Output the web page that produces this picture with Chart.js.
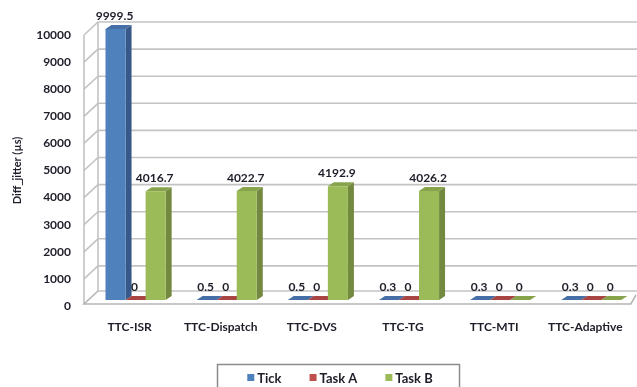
<!DOCTYPE html>
<html>
<head>
<meta charset="utf-8">
<script src="https://cdn.jsdelivr.net/npm/chart.js@4.4.1/dist/chart.umd.min.js"></script>
<style>
  html, body { margin: 0; padding: 0; background: #fff; }
  #wrap { width: 637px; height: 387px; position: relative; }
</style>
</head>
<body>
<div id="wrap"><canvas id="chart"></canvas></div>
<script>
// Chart data
const categories = ['TTC-ISR', 'TTC-Dispatch', 'TTC-DVS', 'TTC-TG', 'TTC-MTI', 'TTC-Adaptive'];
const tickValues = [9999.5, 0.5, 0.5, 0.3, 0.3, 0.3];
const taskAValues = [0, 0, 0, 0, 0, 0];
const taskBValues = [4016.7, 4022.7, 4192.9, 4026.2, 0, 0];
const seriesNames = ['Tick', 'Task A', 'Task B'];
const yAxisTitle = 'Diff_jitter (\u00b5s)';

// Face colours: front, side, top
const palette = [
  { front: '#4F81BD', side: '#37598A', top: '#456FA6' },
  { front: '#C0504D', side: '#8C3836', top: '#A84542' },
  { front: '#9BBB59', side: '#72893F', top: '#87A44C' }
];

const FONT = 'Lato';
const TEXT = '#1e1e2a';
const BAR_SHIFT = { x: 6, y: -6 };   // bars sit a little behind the front edge
const BAR_DEPTH = { x: 6, y: -4 };   // depth of each column
const WALL = { x: 14, y: -13 };      // back wall offset

Chart.defaults.font.family = FONT;
Chart.defaults.font.weight = 'bold';
Chart.defaults.color = TEXT;

// Walls, floor and 3D faces of the columns
const threeD = {
  id: 'threeD',
  beforeDatasetsDraw(chart) {
    const ctx = chart.ctx;
    const y = chart.scales.y;
    const area = chart.chartArea;
    const left = area.left;
    const right = chart.width;

    ctx.save();
    ctx.strokeStyle = '#C3C3C3';
    ctx.lineWidth = 1.6;
    // back wall gridlines with slanted side wall connectors
    y.ticks.forEach(t => {
      if (t.value === 0) return;
      const py = y.getPixelForValue(t.value);
      ctx.beginPath();
      ctx.moveTo(left, py);
      ctx.lineTo(left + WALL.x, py + WALL.y);
      ctx.lineTo(right, py + WALL.y);
      ctx.stroke();
    });
    // left wall edge
    const top = y.getPixelForValue(y.max);
    const y0 = y.getPixelForValue(0) - 2;
    ctx.beginPath();
    ctx.moveTo(left, top);
    ctx.lineTo(left, y0);
    ctx.moveTo(left + WALL.x, top + WALL.y);
    ctx.lineTo(left + WALL.x, y0 + WALL.y);
    ctx.stroke();
    // floor
    ctx.beginPath();
    ctx.moveTo(left + WALL.x, y0 + WALL.y);
    ctx.lineTo(right, y0 + WALL.y);
    ctx.stroke();
    ctx.strokeStyle = '#B5B5B5';
    ctx.beginPath();
    ctx.moveTo(left + WALL.x, y0 + WALL.y);
    ctx.lineTo(left, y0);
    ctx.lineTo(area.right, y0);
    ctx.lineTo(right - 1, y0 + WALL.y + 4);
    ctx.stroke();
    ctx.restore();

    // columns: side and top faces, fronts are drawn by Chart.js afterwards
    ctx.save();
    ctx.translate(BAR_SHIFT.x, BAR_SHIFT.y);
    chart.data.datasets.forEach((ds, di) => {
      const meta = chart.getDatasetMeta(di);
      const col = palette[di];
      meta.data.forEach(bar => {
        const p = bar.getProps(['x', 'y', 'base', 'width'], true);
        const l = p.x - p.width / 2, r = p.x + p.width / 2;
        const t = Math.min(p.y, p.base), b = Math.max(p.y, p.base);
        ctx.fillStyle = col.side;
        ctx.beginPath();
        ctx.moveTo(r, t);
        ctx.lineTo(r + BAR_DEPTH.x, t + BAR_DEPTH.y);
        ctx.lineTo(r + BAR_DEPTH.x, b + BAR_DEPTH.y);
        ctx.lineTo(r, b);
        ctx.closePath();
        ctx.fill();
        ctx.fillStyle = col.top;
        ctx.beginPath();
        ctx.moveTo(l, t);
        ctx.lineTo(l + BAR_DEPTH.x, t + BAR_DEPTH.y);
        ctx.lineTo(r + BAR_DEPTH.x, t + BAR_DEPTH.y);
        ctx.lineTo(r, t);
        ctx.closePath();
        ctx.fill();
      });
    });
  },
  afterDatasetsDraw(chart) {
    const ctx = chart.ctx;
    // value labels above each column
    ctx.font = 'bold 12px ' + FONT;
    ctx.fillStyle = TEXT;
    ctx.textAlign = 'center';
    ctx.textBaseline = 'middle';
    chart.data.datasets.forEach((ds, di) => {
      const meta = chart.getDatasetMeta(di);
      meta.data.forEach((bar, i) => {
        const p = bar.getProps(['x', 'y'], true);
        ctx.fillText(String(ds.data[i]), p.x - 1, p.y - 13);
      });
    });
    ctx.restore();
  },
  afterDraw(chart) {
    // boxed legend under the plot
    const ctx = chart.ctx;
    ctx.save();
    ctx.strokeStyle = '#8C8C8C';
    ctx.lineWidth = 1.5;
    ctx.strokeRect(217.5, 364.5, 242, 40);
    ctx.font = 'bold 13px ' + FONT;
    ctx.textBaseline = 'middle';
    ctx.textAlign = 'left';
    const box = 7, gap = 3, spacing = 28;
    const widths = chart.data.datasets.map(ds => box + gap + ctx.measureText(ds.label).width);
    const total = widths.reduce((a, b) => a + b, 0) + spacing * (widths.length - 1);
    let x = 340 - total / 2;
    const ly = 378;
    chart.data.datasets.forEach((ds, di) => {
      ctx.fillStyle = palette[di].front;
      ctx.fillRect(x, ly - 4, box, box);
      ctx.fillStyle = TEXT;
      ctx.fillText(ds.label, x + box + gap, ly + 1);
      x += widths[di] + spacing;
    });
    ctx.restore();
  }
};

const allSeries = [tickValues, taskAValues, taskBValues];

new Chart(document.getElementById('chart'), {
  type: 'bar',
  data: {
    labels: categories,
    datasets: allSeries.map((values, i) => ({
      label: seriesNames[i],
      data: values,
      backgroundColor: palette[i].front,
      borderWidth: 0,
      clip: false,
      categoryPercentage: 0.66,
      barPercentage: 1
    }))
  },
  options: {
    responsive: true,
    maintainAspectRatio: false,
    animation: false,
    layout: { padding: { top: 35, right: 5, left: 0, bottom: 0 } },
    plugins: {
      legend: { display: false },
      tooltip: { enabled: false }
    },
    scales: {
      x: {
        grid: { display: false, drawTicks: false },
        border: { display: false },
        ticks: { padding: 14, font: { size: 12, weight: 'bold' }, maxRotation: 0 },
        afterFit(scale) { scale.height = 81; }
      },
      y: {
        min: 0,
        max: 10000,
        grid: { display: false, drawTicks: false },
        border: { display: false },
        ticks: {
          stepSize: 1000,
          padding: 13,
          font: { size: 12, weight: 'bold' },
          callback: value => String(value)
        },
        title: {
          display: true,
          text: yAxisTitle,
          font: { size: 11, weight: 'bold' },
          padding: { top: 11, bottom: 0 }
        },
        afterFit(scale) { scale.width = 84; }
      }
    }
  },
  plugins: [threeD]
});
</script>
</body>
</html>
